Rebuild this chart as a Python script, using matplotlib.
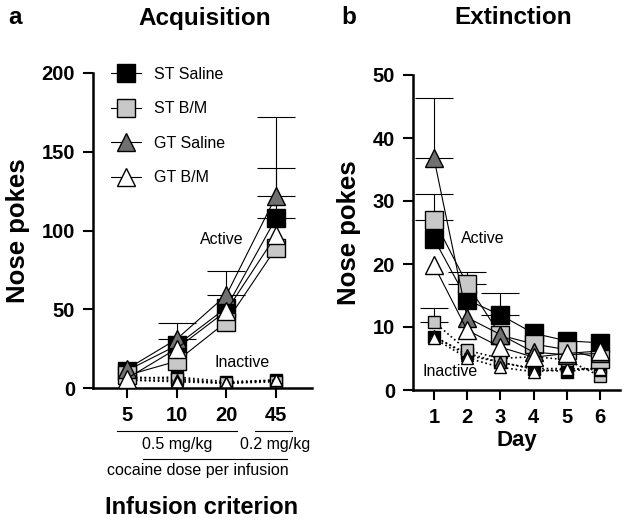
import matplotlib
matplotlib.use('Agg')
import matplotlib.pyplot as plt
import matplotlib.transforms as mtransforms
from matplotlib.lines import Line2D
import numpy as np

plt.rcParams['font.family'] = ['Liberation Sans', 'DejaVu Sans']

# ---- data ----
groups = ['ST Saline', 'ST B/M', 'GT Saline', 'GT B/M']
face_colors = ['black', '#c8c8c8', '#707070', 'white']
markers = ['s', 's', '^', '^']

criteria = ['5', '10', '20', '45']
acq_active = [
    [11, 27, 51, 108],   # ST Saline
    [8, 17, 42, 89],     # ST B/M
    [12, 31, 59, 122],   # GT Saline
    [6, 25, 49, 97],     # GT B/M
]
acq_active_err = [
    [0, 0, 0, 32],
    [0, 0, 0, 0],
    [0, 10, 15, 50],
    [0, 0, 0, 0],
]
acq_inactive = [
    [6, 7, 4, 5],
    [7, 6, 3, 4],
    [5, 5, 3, 5],
    [5, 4, 3, 5],
]

days = [1, 2, 3, 4, 5, 6]
ext_active = [
    [24, 14.3, 11.9, 9.0, 7.8, 7.5],   # ST Saline
    [27, 16.8, 8.7, 7.3, 6.4, 5.0],    # ST B/M
    [36.8, 11.5, 8.8, 6.0, 5.6, 5.8],  # GT Saline
    [19.8, 9.5, 6.8, 5.2, 5.8, 6.2],   # GT B/M
]
ext_active_err = [
    [0, 0, 3.5, 0, 0, 0],
    [4.1, 2.0, 0, 0, 0, 0],
    [9.6, 0, 0, 0, 0, 0],
    [0, 0, 0, 0, 0, 0],
]
ext_inactive = [
    [8.4, 5.8, 4.4, 3.3, 2.9, 3.6],
    [10.8, 6.3, 5.0, 5.3, 4.8, 2.2],
    [8.6, 5.5, 4.4, 3.4, 3.4, 3.2],
    [8.2, 5.1, 3.6, 2.9, 3.3, 3.4],
]
ext_inactive_err = [
    [0, 0, 0, 0, 0, 0],
    [2.2, 0, 0, 0, 0, 0],
    [0, 0, 0, 0, 0, 0],
    [0, 0, 0, 0, 0, 0],
]

W, H = 633, 528
fig = plt.figure(figsize=(W / 100, H / 100), dpi=100)

ax1 = fig.add_axes([93 / W, 1 - 388 / H, (312 - 93) / W, (388 - 73) / H])
ax2 = fig.add_axes([413 / W, 1 - 390 / H, (620 - 413) / W, (390 - 75) / H])


def style_axis(ax):
    for s in ['top', 'right']:
        ax.spines[s].set_visible(False)
    for s in ['left', 'bottom']:
        ax.spines[s].set_linewidth(1.8)
    ax.tick_params(direction='out', length=7, width=1.5, labelsize=14.5, pad=6)
    for lab in ax.get_xticklabels() + ax.get_yticklabels():
        lab.set_fontweight('bold')


def up_errors(ax, x, y, err, capsize, z):
    # only points that have an error bar in the figure
    x = np.asarray(x, float)
    y = np.asarray(y, float)
    err = np.asarray(err, float)
    keep = err > 0
    if keep.any():
        ax.errorbar(x[keep], y[keep], yerr=[np.zeros(keep.sum()), err[keep]], fmt='none',
                    ecolor='black', elinewidth=0.8, capsize=capsize, capthick=0.8, zorder=z)


def draw_series(ax, x, active, active_err, inactive, inactive_err=None):
    for i in range(len(groups)):
        if inactive_err is not None:
            up_errors(ax, x, inactive[i], inactive_err[i], 10, 1.5)
        ax.plot(x, inactive[i], ls=':', marker=markers[i], color='black', mfc=face_colors[i],
                mec='black', ms=9, mew=1.0, lw=1.2, zorder=2)
    for i in range(len(groups)):
        up_errors(ax, x, active[i], active_err[i], 14, 2.5)
        ax.plot(x, active[i], ls='-', marker=markers[i], color='black', mfc=face_colors[i],
                mec='black', ms=12.5, mew=1.0, lw=0.8, zorder=3)


# ---- panel a ----
xa = np.arange(len(criteria))
draw_series(ax1, xa, acq_active, acq_active_err, acq_inactive)
ax1.set_xlim(-0.68, 3.72)
ax1.set_ylim(0, 200)
ax1.set_xticks(xa)
ax1.set_xticklabels(criteria)
ax1.set_yticks([0, 50, 100, 150, 200])
style_axis(ax1)
ax1.set_ylabel('Nose pokes', fontsize=18.5, fontweight='bold', labelpad=8)
ax1.text(1.9, 94, 'Active', fontsize=11.5, ha='center', va='center')
ax1.text(2.32, 16.5, 'Inactive', fontsize=11.5, ha='center', va='center')

handles = [Line2D([0], [0], color='black', lw=0.8, marker=markers[i], mfc=face_colors[i],
                  mec='black', ms=12.5, mew=1.0) for i in range(len(groups))]
ax1.legend(handles, groups, loc='upper left', bbox_to_anchor=(103 / W, 1 - 59 / H),
           bbox_transform=fig.transFigure, frameon=False, fontsize=11.5,
           handlelength=1.9, handletextpad=0.8, labelspacing=1.22, borderpad=0)

# dose annotation under panel a
tr = mtransforms.blended_transform_factory(ax1.transData, fig.transFigure)
fig.add_artist(Line2D([-0.2, 2.22], [1 - 431 / H] * 2, transform=tr, color='black', lw=0.8))
fig.add_artist(Line2D([2.58, 3.32], [1 - 431 / H] * 2, transform=tr, color='black', lw=0.8))
fig.add_artist(Line2D([0.32, 3.22], [1 - 459 / H] * 2, transform=tr, color='black', lw=0.8))
fig.text(177 / W, 1 - 445 / H, '0.5 mg/kg', fontsize=11.5, ha='center', va='center')
fig.text(275 / W, 1 - 445 / H, '0.2 mg/kg', fontsize=11.5, ha='center', va='center')
fig.text(198 / W, 1 - 471 / H, 'cocaine dose per infusion', fontsize=11.5, ha='center', va='center')
fig.text(202 / W, 1 - 508 / H, 'Infusion criterion', fontsize=17, fontweight='bold',
         ha='center', va='center')

# ---- panel b ----
draw_series(ax2, days, ext_active, ext_active_err, ext_inactive, ext_inactive_err)
ax2.set_xlim(0.37, 6.6)
ax2.set_ylim(0, 50)
ax2.set_xticks(days)
ax2.set_yticks([0, 10, 20, 30, 40, 50])
style_axis(ax2)
ax2.set_ylabel('Nose pokes', fontsize=18.5, fontweight='bold', labelpad=8)
ax2.set_xlabel('Day', fontsize=16, fontweight='bold', labelpad=2)
ax2.text(2.48, 24, 'Active', fontsize=11.5, ha='center', va='center')
ax2.text(1.48, 2.9, 'Inactive', fontsize=11.5, ha='center', va='center')

# titles and panel letters
fig.text(205 / W, 1 - 18 / H, 'Acquisition', fontsize=17.5, fontweight='bold', ha='center', va='center')
fig.text(513 / W, 1 - 18 / H, 'Extinction', fontsize=17.5, fontweight='bold', ha='center', va='center')
fig.text(15 / W, 1 - 18 / H, 'a', fontsize=17.5, fontweight='bold', ha='center', va='center')
fig.text(349 / W, 1 - 18 / H, 'b', fontsize=17.5, fontweight='bold', ha='center', va='center')

fig.savefig('out.png', dpi=100)
